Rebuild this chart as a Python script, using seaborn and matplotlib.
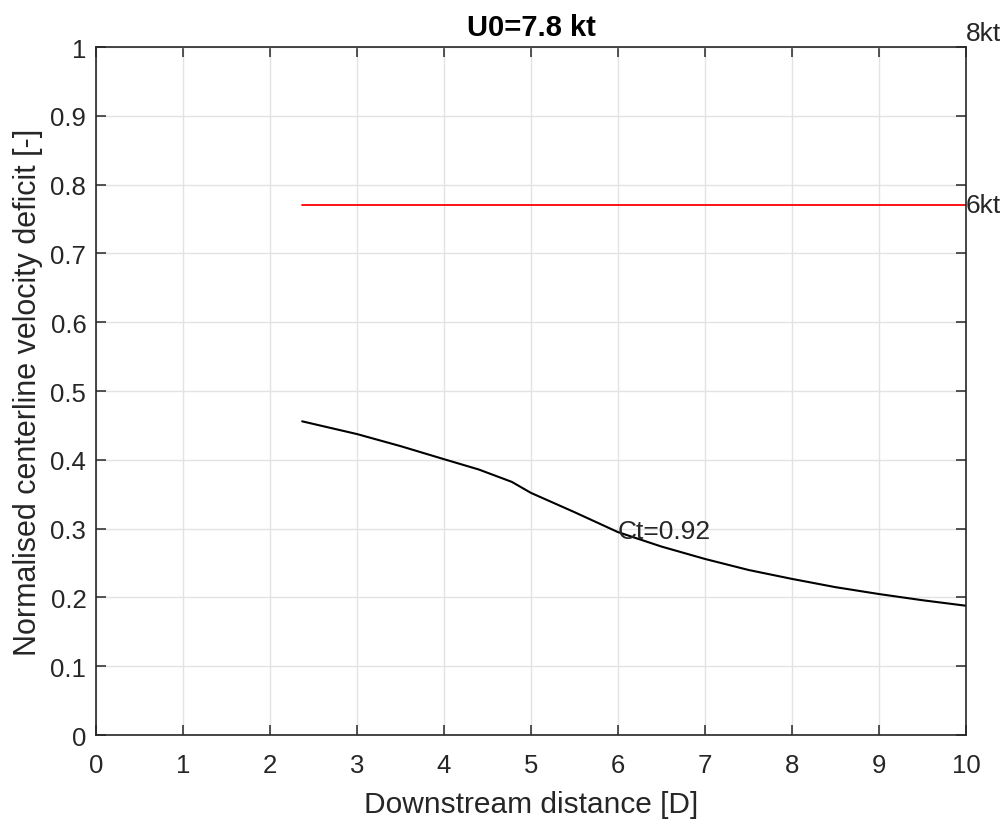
import seaborn as sns
import pandas as pd
import matplotlib.pyplot as plt

# black curve: Ct=0.92 wake deficit
dist = [2.37, 3.0, 3.5, 4.0, 4.4, 4.78, 5.0, 5.5, 6.0, 6.5, 7.0, 7.5, 8.0, 8.5, 9.0, 9.5, 10.0]
deficit = [0.456, 0.4375, 0.420, 0.401, 0.386, 0.368, 0.352, 0.324, 0.295, 0.274, 0.256, 0.240, 0.227, 0.215, 0.205, 0.196, 0.188]

# red reference line
ref_x = [2.37, 10.0]
ref_y = [0.771, 0.771]

sns.set_style("whitegrid")
plt.rcParams['font.family'] = ['Liberation Sans', 'DejaVu Sans']

curve = pd.DataFrame({"x": dist, "y": deficit})
ref = pd.DataFrame({"x": ref_x, "y": ref_y})

fig = plt.figure(figsize=(10.06, 8.28), dpi=100)
ax = fig.add_axes([0.0954, 0.111, 0.8648, 0.831])

sns.lineplot(data=curve, x="x", y="y", color="black", linewidth=1.5, sort=False, ax=ax)
sns.lineplot(data=ref, x="x", y="y", color="#ff0000", linewidth=1.3, sort=False, ax=ax)

ax.set_xlim(0, 10)
ax.set_ylim(0, 1)
ax.set_xticks(range(0, 11))
ax.set_yticks([i / 10 for i in range(0, 11)])
ax.set_yticklabels(["0"] + [f"{i/10:.1f}" for i in range(1, 10)] + ["1"])
ax.grid(True, color="#e3e3e3", linewidth=1.0)
for s in ax.spines.values():
    s.set_color("#262626")
    s.set_linewidth(1.2)
ax.tick_params(direction="in", length=7, width=1.1, color="#262626",
               labelsize=18.5, labelcolor="#262626", top=True, right=True,
               bottom=True, left=True)
ax.tick_params(axis="x", pad=13)
ax.tick_params(axis="y", pad=7)

ax.set_xlabel("Downstream distance [D]", fontsize=21.5, color="#262626", labelpad=9)
ax.set_ylabel("Normalised centerline velocity deficit [-]", fontsize=22, color="#262626", labelpad=5)
ax.set_title("U0=7.8 kt", fontsize=21, fontweight="bold", color="black", pad=9)

ax.text(6.0, 0.296, "Ct=0.92", fontsize=19, va="center", ha="left", color="#262626")
ax.text(10.0, 0.771, "6kt", fontsize=19, va="center", ha="left", color="#262626")
ax.text(10.0, 1.021, "8kt", fontsize=19, va="center", ha="left", color="#262626", clip_on=False)

fig.savefig("out.png", dpi=100)
